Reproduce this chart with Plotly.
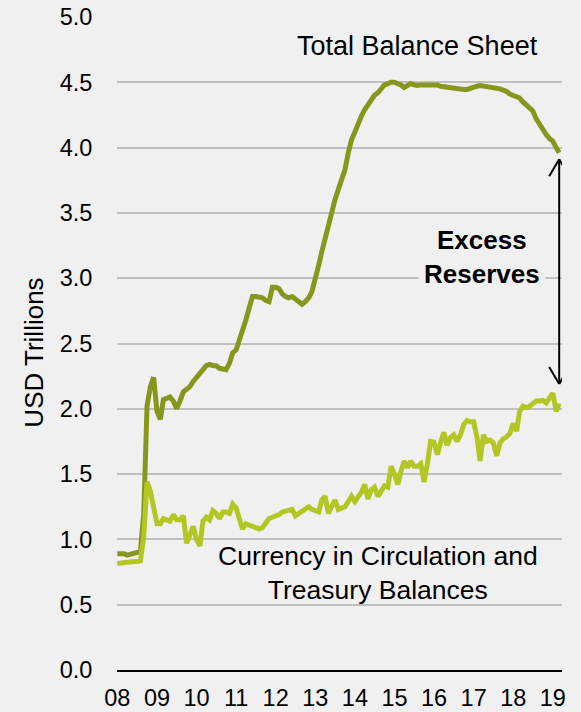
import pandas as pd
import plotly.graph_objects as go

# Monthly observations, Jan 2008 - Mar 2019 (USD trillions)
months = pd.date_range("2008-01-01", periods=135, freq="MS")

total_balance_sheet = [
    0.89, 0.89, 0.89, 0.88, 0.89, 0.89, 0.90, 0.91, 1.20, 2.02, 2.17, 2.24,   # 2008
    1.98, 1.92, 2.07, 2.08, 2.09, 2.06, 2.00, 2.06, 2.13, 2.15, 2.17, 2.21,   # 2009
    2.245, 2.27, 2.30, 2.33, 2.34, 2.33, 2.33, 2.31, 2.30, 2.30, 2.35, 2.43,  # 2010
    2.45, 2.52, 2.60, 2.68, 2.77, 2.86, 2.86, 2.85, 2.85, 2.83, 2.82, 2.93,   # 2011
    2.93, 2.92, 2.88, 2.86, 2.85, 2.86, 2.84, 2.81, 2.80, 2.82, 2.85, 2.90,   # 2012
    2.99, 3.10, 3.20, 3.30, 3.43, 3.53, 3.60, 3.68, 3.76, 3.83, 3.96, 4.06,   # 2013
    4.12, 4.19, 4.24, 4.29, 4.33, 4.37, 4.40, 4.42, 4.45, 4.48, 4.49, 4.50,   # 2014
    4.50, 4.49, 4.48, 4.46, 4.47, 4.49, 4.48, 4.475, 4.48, 4.48, 4.475, 4.48, # 2015
    4.48, 4.48, 4.47, 4.465, 4.46, 4.46, 4.455, 4.45, 4.45, 4.445, 4.445, 4.45,  # 2016
    4.46, 4.47, 4.475, 4.47, 4.47, 4.465, 4.46, 4.46, 4.45, 4.44, 4.43, 4.41,  # 2017
    4.40, 4.39, 4.38, 4.35, 4.33, 4.30, 4.28, 4.22, 4.18, 4.13, 4.10, 4.07,   # 2018
    4.05, 4.00, 3.96,                                                         # 2019
]

currency_and_treasury = [
    0.815, 0.82, 0.82, 0.825, 0.825, 0.83, 0.83, 0.835, 1.02, 1.44, 1.37, 1.26,  # 2008
    1.12, 1.12, 1.16, 1.15, 1.14, 1.19, 1.15, 1.15, 1.18, 0.97, 1.04, 1.10,   # 2009
    1.00, 0.95, 1.14, 1.17, 1.15, 1.22, 1.20, 1.16, 1.21, 1.21, 1.20, 1.27,   # 2010
    1.24, 1.14, 1.08, 1.12, 1.11, 1.10, 1.09, 1.08, 1.09, 1.13, 1.16, 1.17,   # 2011
    1.18, 1.19, 1.21, 1.22, 1.22, 1.23, 1.18, 1.20, 1.22, 1.24, 1.25, 1.23,   # 2012
    1.22, 1.21, 1.30, 1.33, 1.20, 1.26, 1.30, 1.23, 1.24, 1.25, 1.29, 1.33,   # 2013
    1.29, 1.33, 1.36, 1.42, 1.31, 1.38, 1.40, 1.33, 1.38, 1.41, 1.40, 1.56,   # 2014
    1.50, 1.42, 1.52, 1.60, 1.55, 1.60, 1.56, 1.56, 1.58, 1.44, 1.58, 1.75,   # 2015
    1.745, 1.65, 1.74, 1.82, 1.72, 1.78, 1.80, 1.75, 1.80, 1.88, 1.91, 1.90,  # 2016
    1.90, 1.78, 1.60, 1.80, 1.75, 1.76, 1.74, 1.64, 1.74, 1.77, 1.785, 1.81,  # 2017
    1.89, 1.83, 1.98, 2.02, 2.01, 2.02, 2.04, 2.06, 2.06, 2.065, 2.045, 2.08, # 2018
    2.12, 1.98, 2.04,                                                         # 2019
]

year_ticks = [f"{y}-01-01" for y in range(2008, 2020)]
year_labels = [f"{y % 100:02d}" for y in range(2008, 2020)]
y_ticks = [0, 0.5, 1.0, 1.5, 2.0, 2.5, 3.0, 3.5, 4.0, 4.5, 5.0]
y_labels = [f"{v:.1f}" for v in y_ticks]

DARK = "#87971D"
LIGHT = "#B3C724"
BG = "#F0F0F0"
FONT = "Liberation Sans, Arial, sans-serif"

fig = go.Figure()
fig.add_trace(go.Scatter(
    x=months, y=total_balance_sheet, mode="lines",
    line=dict(color=DARK, width=5), name="Total Balance Sheet",
))
fig.add_trace(go.Scatter(
    x=months, y=currency_and_treasury, mode="lines",
    line=dict(color=LIGHT, width=5), name="Currency in Circulation and Treasury Balances",
))

# Double-headed arrow spanning the gap between the two series at the last date
arrow_x = months[-1]
arrow_top = total_balance_sheet[-1] - 0.05
arrow_bottom = max(currency_and_treasury[-3:]) + 0.07
arrow_line = dict(color="black", width=2)
fig.add_shape(type="line", xref="x", yref="y", x0=arrow_x, x1=arrow_x,
              y0=arrow_bottom, y1=arrow_top, line=arrow_line)
# open "V" heads: pixel offsets from each tip (positive y = upwards)
for tip, direction in ((arrow_top, -1), (arrow_bottom, 1)):
    for side in (-1, 1):
        fig.add_shape(type="line", xref="x", yref="y",
                      xsizemode="pixel", xanchor=arrow_x, x0=0, x1=10 * side,
                      ysizemode="pixel", yanchor=tip, y0=0, y1=17 * direction,
                      line=arrow_line)

fig.add_annotation(x="2015-08-01", y=4.78, xref="x", yref="y",
                   text="Total Balance Sheet", showarrow=False,
                   font=dict(family=FONT, size=27, color="black"))
fig.add_annotation(x="2014-08-01", y=0.74, xref="x", yref="y",
                   text="Currency in Circulation and<br>Treasury Balances",
                   showarrow=False, align="center",
                   font=dict(family=FONT, size=26.5, color="black"))
fig.add_annotation(x="2017-03-20", y=3.16, xref="x", yref="y",
                   text="<b>Excess<br>Reserves</b>", showarrow=False,
                   align="center", bgcolor=BG, borderpad=5,
                   font=dict(family=FONT, size=26, color="black"))
fig.add_annotation(x=-0.1865, y=0.486, xref="paper", yref="paper",
                   text="USD Trillions", textangle=-90, showarrow=False,
                   xanchor="center", yanchor="middle",
                   font=dict(family=FONT, size=26, color="black"))

fig.update_layout(
    width=581, height=712,
    margin=dict(l=117, r=19, t=17, b=42),
    paper_bgcolor=BG, plot_bgcolor=BG,
    showlegend=False,
    font=dict(family=FONT, color="black"),
    xaxis=dict(
        type="date", range=["2007-12-29", "2019-03-27"],
        tickvals=year_ticks, ticktext=year_labels,
        tickfont=dict(size=23.5, color="black"),
        ticks="outside", ticklen=6, tickcolor="rgba(0,0,0,0)",
        showgrid=False, showline=True, linecolor="black", linewidth=2,
        zeroline=False, automargin=False,
    ),
    yaxis=dict(
        range=[0, 5.0], tickvals=y_ticks, ticktext=y_labels,
        tickfont=dict(size=23.5, color="black"),
        ticks="outside", ticklen=19, tickcolor="rgba(0,0,0,0)",
        showgrid=True, gridcolor="#C0C0C0", gridwidth=2,
        zeroline=False, showline=False, automargin=False,
    ),
)

fig.write_html("out.html")
